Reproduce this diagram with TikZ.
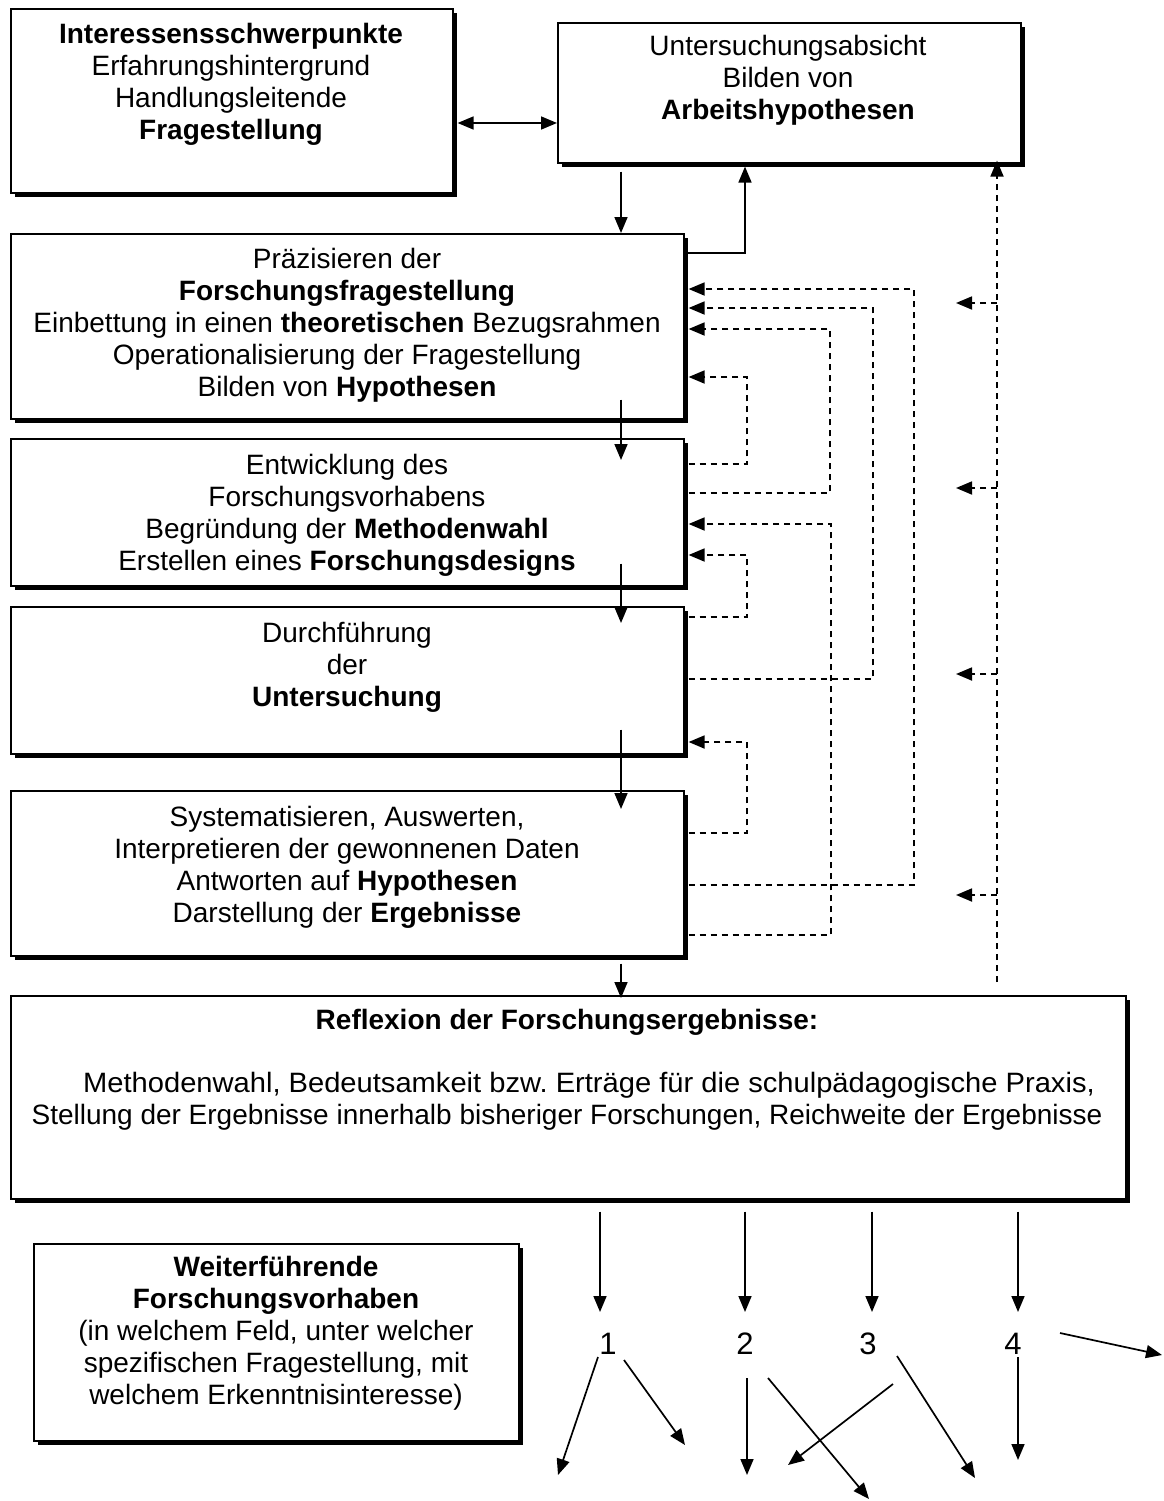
\documentclass[tikz,border=0pt]{standalone}
\usepackage{fontspec}
\setmainfont{Liberation Sans}
\usetikzlibrary{arrows.meta,shadows}
\tikzset{
  box/.style={draw, line width=1.6pt, fill=white, rectangle, inner sep=0pt, anchor=north west,
    drop shadow={shadow xshift=4pt, shadow yshift=-4pt, fill=black, opacity=1}},
  txt/.style={align=center, font=\fontsize{28}{32}\selectfont, inner sep=0pt},
  num/.style={font=\fontsize{31}{34}\selectfont, inner sep=0pt},
  tip/.style={-{Triangle[length=16pt,width=13pt]}},
  arr/.style={line width=1.7pt, tip},
  darr/.style={line width=1.8pt, dash pattern=on 6pt off 5pt, tip},
}
\begin{document}
\begin{tikzpicture}[x=1pt,y=-1pt]
\useasboundingbox (0,0) rectangle (1163,1501);
% boxes
\node[box, minimum width=442pt, minimum height=184pt] (A) at (10,8) {};
\node[box, minimum width=463pt, minimum height=140pt] (B) at (557,22) {};
\node[box, minimum width=673pt, minimum height=185pt] (C) at (10,233) {};
\node[box, minimum width=673pt, minimum height=147pt] (D) at (10,438) {};
\node[box, minimum width=673pt, minimum height=147pt] (E) at (10,606) {};
\node[box, minimum width=673pt, minimum height=165pt] (F) at (10,790) {};
\node[box, minimum width=1115pt, minimum height=203pt] (G) at (10,995) {};
\node[box, minimum width=485pt, minimum height=197pt] (H) at (33,1243) {};
% texts
\node[txt] (tA) at (231,84) {\textbf{Interessensschwerpunkte}\\Erfahrungshintergrund\\Handlungsleitende\\\textbf{Fragestellung}};
\node[txt] (tB) at (788,80) {Untersuchungsabsicht\\Bilden von\\\textbf{Arbeitshypothesen}};
\node[txt] (tC) at (347,325) {Präzisieren der\\\textbf{Forschungsfragestellung}\\Einbettung in einen \textbf{theoretischen} Bezugsrahmen\\Operationalisierung der Fragestellung\\Bilden von \textbf{Hypothesen}};
\node[txt] (tD) at (347,515) {Entwicklung des\\Forschungsvorhabens\\Begründung der \textbf{Methodenwahl}\\Erstellen eines \textbf{Forschungsdesigns}};
\node[txt] (tE) at (347,667) {Durchführung\\der\\\textbf{Untersuchung}};
\node[txt] (tF) at (347,867) {Systematisieren, Auswerten,\\Interpretieren der gewonnenen Daten\\Antworten auf \textbf{Hypothesen}\\Darstellung der \textbf{Ergebnisse}};
\node[txt] (tG) at (567,1070) {\textbf{Reflexion der Forschungsergebnisse:}\\[31pt]\hspace*{44pt}\scalebox{1.04}[1]{Methodenwahl, Bedeutsamkeit bzw.\ Erträge für die schulpädagogische Praxis,}\\Stellung der Ergebnisse innerhalb bisheriger Forschungen, Reichweite der Ergebnisse};
\node[txt] (tH) at (276,1333) {\textbf{Weiterführende}\\\textbf{Forschungsvorhaben}\\(in welchem Feld, unter welcher\\spezifischen Fragestellung, mit\\welchem Erkenntnisinteresse)};
% numbers
\node[num] (n1) at (608,1344) {1};
\node[num] (n2) at (745,1344) {2};
\node[num] (n3) at (868,1344) {3};
\node[num] (n4) at (1013,1344) {4};
% main flow
\draw[line width=1.7pt, {Triangle[length=16pt,width=13pt]}-{Triangle[length=16pt,width=13pt]}] ([xshift=4pt]A.east |- 0,123) -- (B.west |- 0,123);
\draw[arr, shorten <=8pt] (B.south -| 621,0) -- (C.north -| 621,0);
\draw[arr, shorten >=3pt] (C.east |- 0,253) -| (B.south -| 745,0);
\draw[arr, shorten <=-20pt, shorten >=-22pt] (C.south -| 621,0) -- (D.north -| 621,0);
\draw[arr, shorten <=-23pt, shorten >=-17pt] (D.south -| 621,0) -- (E.north -| 621,0);
\draw[arr, shorten <=-25pt, shorten >=-19pt] (E.south -| 621,0) -- (F.north -| 621,0);
\draw[arr, shorten <=7pt, shorten >=-3pt] (F.south -| 621,0) -- (G.north -| 621,0);
% dashed feedback loops
\draw[darr] ([xshift=4pt]D.east |- 0,464) -- (747,464) -- (747,377) -- ([xshift=4pt]C.east |- 0,377);
\draw[darr] ([xshift=4pt]D.east |- 0,493) -- (830,493) -- (830,329) -- ([xshift=4pt]C.east |- 0,329);
\draw[darr] ([xshift=4pt]E.east |- 0,679) -- (873,679) -- (873,308) -- ([xshift=4pt]C.east |- 0,308);
\draw[darr] ([xshift=4pt]F.east |- 0,885) -- (914,885) -- (914,289) -- ([xshift=4pt]C.east |- 0,289);
\draw[darr] ([xshift=4pt]F.east |- 0,935) -- (831,935) -- (831,524) -- ([xshift=4pt]D.east |- 0,524);
\draw[darr] ([xshift=4pt]E.east |- 0,617) -- (747,617) -- (747,555) -- ([xshift=4pt]D.east |- 0,555);
\draw[darr] ([xshift=4pt]F.east |- 0,833) -- (747,833) -- (747,742) -- ([xshift=4pt]E.east |- 0,742);
% right dashed line
\coordinate (rb) at (997,982);
\draw[darr, shorten >=-3pt] (rb) -- (B.south -| 997,0);
\foreach \yy/\nm in {303/r1,488/r2,674/r3,895/r4}{
  \coordinate (\nm s) at (997,\yy);
  \coordinate (\nm e) at (956,\yy);
  \draw[darr] (\nm s) -- (\nm e);
}
% outgoing arrows from reflexion
\foreach \xx/\nm in {600/d1,745/d2,872/d3,1018/d4}{
  \coordinate (\nm) at (\xx,1312);
  \draw[arr, shorten <=12pt] (G.south -| \xx,0) -- (\nm);
}
% branching arrows
\coordinate (a1s) at (598,1357); \coordinate (a1e) at (558,1475);
\coordinate (a2s) at (624,1360); \coordinate (a2e) at (685,1445);
\coordinate (a3s) at (747,1378); \coordinate (a3e) at (747,1475);
\coordinate (a4s) at (768,1378); \coordinate (a4e) at (869,1499);
\coordinate (a5s) at (893,1384); \coordinate (a5e) at (788,1465);
\coordinate (a6s) at (897,1356); \coordinate (a6e) at (975,1478);
\coordinate (a7s) at (1018,1357); \coordinate (a7e) at (1018,1460);
\coordinate (a8s) at (1060,1333); \coordinate (a8e) at (1162,1355);
\foreach \k in {1,...,8}{\draw[arr] (a\k s) -- (a\k e);}
\end{tikzpicture}
\end{document}
